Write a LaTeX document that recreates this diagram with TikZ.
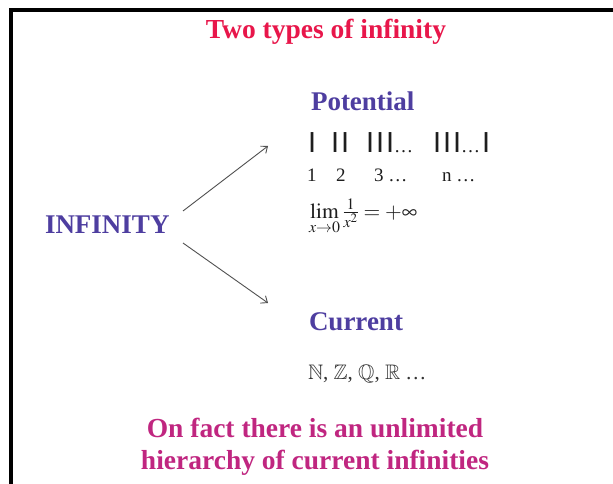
\documentclass[tikz,border=0pt]{standalone}
\usepackage{mathptmx}
\usepackage{amssymb}
\usepackage[no-math]{fontspec}
\setmainfont{Liberation Serif}
\newfontfamily\barfont{Liberation Sans}
\usetikzlibrary{arrows.meta}
\definecolor{titlered}{RGB}{232,22,74}
\definecolor{headblue}{RGB}{78,62,160}
\definecolor{notemag}{RGB}{192,38,128}
\definecolor{arrowgray}{RGB}{80,80,80}
\definecolor{inkdark}{RGB}{30,30,30}
\newcommand\barkern{\kern2pt}
\newcommand\numsize{\rmfamily\fontsize{19}{19}\selectfont}
\begin{document}
\begin{tikzpicture}[x=1pt,y=-1pt,
  txt/.style={inner sep=0pt, outer sep=0pt},
  titletext/.style={txt, anchor=base, text=titlered, font=\fontsize{27.5}{27.5}\selectfont\bfseries},
  head/.style={txt, anchor=base west, text=headblue, font=\fontsize{27}{27}\selectfont\bfseries},
  note/.style={txt, anchor=base, text=notemag, font=\fontsize{27.5}{27.5}\selectfont\bfseries},
  bars/.style={txt, anchor=base west, text=inkdark, font=\barfont\fontsize{29}{29}\selectfont},
  num/.style={txt, anchor=base west, text=inkdark, font=\numsize},
  conn/.style={draw=arrowgray, line width=0.9pt, -{Straight Barb[length=5.5pt,width=9pt]}}
]
\useasboundingbox (0,0) rectangle (613,484);
\fill[white] (0,0) rectangle (613,484);
\draw[line width=4pt] (11,484) -- (11,10) -- (613,10);

\node[titletext] (title) at (326,39) {Two types of infinity};

\node[head] (inf) at (45,233) {INFINITY};
\node[head] (pot) at (311,111) {Potential};
\node[head] (cur) at (309,330) {Current};

\node[bars] (b1) at (308,153) {I};
\node[bars] (b2) at (331,153) {I\barkern I};
\node[bars] (b3) at (366,153) {I\barkern I\barkern I{\numsize …}};
\node[bars] (b4) at (433,153) {I\barkern I\barkern I{\numsize …}\kern2pt I};

\node[num] (n1) at (307,182) {1};
\node[num] (n2) at (336,182) {2};
\node[num] (n3) at (374,182) {3 …};
\node[num] (n4) at (442,182) {n …};

\node[num, font=\rmfamily\fontsize{21.5}{21.5}\selectfont] (lim) at (309,218)
  {$\lim\limits_{x\to 0}\frac{1}{x^2}=+\infty$};

\node[num, font=\rmfamily\fontsize{21}{21}\selectfont, text=black!80] (sets) at (308,379)
  {$\mathbb{N}$, $\mathbb{Z}$, $\mathbb{Q}$, $\mathbb{R}$ …};

\node[note] (note1) at (315,437) {On fact there is an unlimited};
\node[note] (note2) at (315,469) {hierarchy of current infinities};

\coordinate (u1) at (183,211);
\coordinate (u2) at (268,146);
\coordinate (d1) at (183,243);
\coordinate (d2) at (268,303);
\draw[conn] (u1) -- (u2);
\draw[conn] (d1) -- (d2);
\end{tikzpicture}
\end{document}
